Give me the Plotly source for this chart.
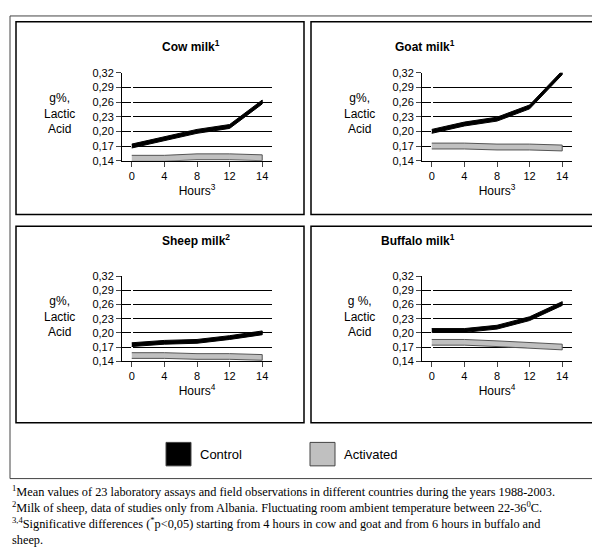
import plotly.graph_objects as go
from plotly.subplots import make_subplots

hours = ["0", "4", "8", "12", "14"]
y_ticks = [0.14, 0.17, 0.20, 0.23, 0.26, 0.29, 0.32]
y_tick_text = ["0,14", "0,17", "0,20", "0,23", "0,26", "0,29", "0,32"]

cow_control = [0.17, 0.185, 0.20, 0.21, 0.26]
cow_activated = [0.145, 0.145, 0.148, 0.148, 0.146]
goat_control = [0.20, 0.215, 0.225, 0.25, 0.32]
goat_activated = [0.17, 0.17, 0.168, 0.168, 0.166]
sheep_control = [0.175, 0.18, 0.182, 0.19, 0.20]
sheep_activated = [0.152, 0.152, 0.15, 0.15, 0.148]
buffalo_control = [0.205, 0.205, 0.212, 0.23, 0.262]
buffalo_activated = [0.18, 0.18, 0.177, 0.174, 0.17]

panels = [
    ("Cow milk<sup>1</sup>", "g%,<br>Lactic<br>Acid", "Hours<sup>3</sup>", cow_control, cow_activated),
    ("Goat milk<sup>1</sup>", "g%,<br>Lactic<br>Acid", "Hours<sup>3</sup>", goat_control, goat_activated),
    ("Sheep milk<sup>2</sup>", "g%,<br>Lactic<br>Acid", "Hours<sup>4</sup>", sheep_control, sheep_activated),
    ("Buffalo milk<sup>1</sup>", "g %,<br>Lactic<br>Acid", "Hours<sup>4</sup>", buffalo_control, buffalo_activated),
]

W, H = 600, 547
def py(p):
    return 1 - p / H

fig = make_subplots(rows=2, cols=2)
domains = [((0.19, 0.44), (py(150), py(60))), ((0.69, 0.94), (py(150), py(60))),
           ((0.19, 0.44), (py(355), py(268))), ((0.69, 0.94), (py(355), py(268)))]
boxes = [(8, 8, 296, 205), (303, 8, 594, 205), (8, 217, 296, 418), (303, 217, 594, 418)]

x_idx = list(range(len(hours)))
for i, (title, ylab, xlab, ctrl, act) in enumerate(panels):
    r, c = i // 2 + 1, i % 2 + 1
    fig.add_trace(go.Scatter(
        x=x_idx + x_idx[::-1], y=[v - 0.006 for v in act] + [v + 0.006 for v in act][::-1],
        fill="toself", fillcolor="#c0c0c0", line=dict(color="#555", width=1),
        mode="lines", showlegend=False, hoverinfo="skip"), row=r, col=c)
    fig.add_trace(go.Scatter(
        x=x_idx + x_idx[::-1], y=[v - 0.004 for v in ctrl] + [v + 0.004 for v in ctrl][::-1],
        fill="toself", fillcolor="black", line=dict(color="black", width=1),
        mode="lines", showlegend=False, hoverinfo="skip"), row=r, col=c)
    (dx, dy) = domains[i]
    fig.update_xaxes(domain=list(dx), tickvals=x_idx, ticktext=hours, range=[-0.3, 4.3],
                     showline=True, linecolor="black", ticks="outside", showgrid=False,
                     title=dict(text=xlab, standoff=2, font=dict(size=12)), row=r, col=c)
    fig.update_yaxes(domain=list(dy), range=[0.14, 0.32], tickvals=y_ticks, ticktext=y_tick_text,
                     showline=True, linecolor="black", ticks="outside", gridcolor="black",
                     gridwidth=0.6, row=r, col=c)
    x0, y0, x1, y1 = boxes[i]
    fig.add_shape(type="rect", xref="paper", yref="paper", x0=x0 / W, x1=x1 / W,
                  y0=py(y1), y1=py(y0), line=dict(color="black", width=1.5))
    fig.add_annotation(text="<b>" + title + "</b>", xref="paper", yref="paper",
                       x=(x0 + x1) / 2 / W, y=py(y0 + 14), showarrow=False, font=dict(size=12))
    fig.add_annotation(text=ylab, xref="paper", yref="paper", x=dx[0] - 0.075, y=dy[1] - 0.03,
                       xanchor="right", yanchor="top", showarrow=False,
                       font=dict(size=12), align="center")

fig.add_shape(type="rect", xref="paper", yref="paper", x0=2 / W, x1=598 / W, y0=py(475), y1=py(2),
              line=dict(color="#444", width=1))
for lx, color, label in [(158, "black", "Control"), (302, "#c0c0c0", "Activated")]:
    fig.add_shape(type="rect", xref="paper", yref="paper", x0=lx / W, x1=(lx + 25) / W,
                  y0=py(462), y1=py(438), fillcolor=color, line=dict(color="#444", width=1))
    fig.add_annotation(text=label, xref="paper", yref="paper", x=(lx + 32) / W, y=py(450),
                       xanchor="left", yanchor="middle", showarrow=False, font=dict(size=13))

notes = ("<sup>1</sup>Mean values of 23 laboratory assays and field observations in different countries during the years 1988-2003.<br>"
         "<sup>2</sup>Milk of sheep, data of studies only from Albania. Fluctuating room ambient temperature between 22-36<sup>0</sup>C.<br>"
         "<sup>3,4</sup>Significative differences (<sup>*</sup>p<0,05) starting from 4 hours in cow and goat and from 6 hours in buffalo and<br>sheep.")
fig.add_annotation(text=notes, xref="paper", yref="paper", x=2 / W, y=py(477), xanchor="left",
                   yanchor="top", align="left", showarrow=False,
                   font=dict(family="Liberation Serif", size=12.3))

fig.update_layout(width=W, height=H, margin=dict(l=0, r=0, t=0, b=0),
                  plot_bgcolor="white", paper_bgcolor="white",
                  font=dict(family="Liberation Sans", size=11, color="black"))
fig.write_html("out.html")
